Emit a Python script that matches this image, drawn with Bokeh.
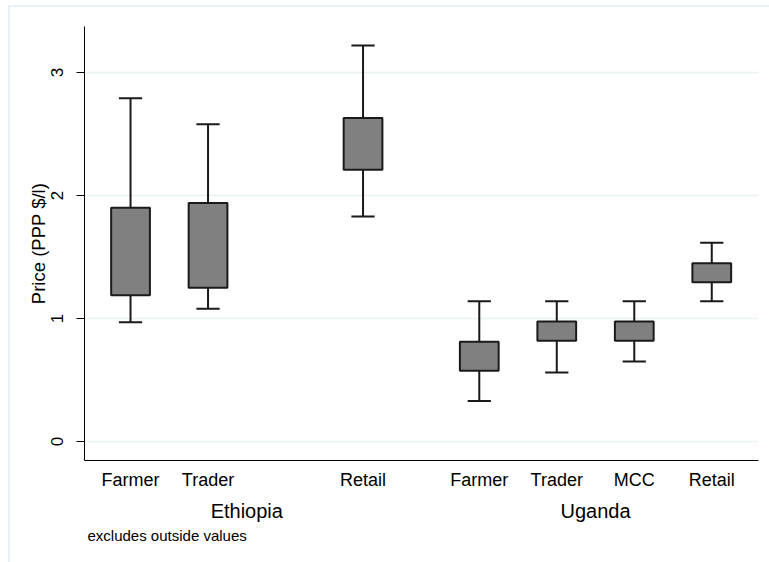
from bokeh.plotting import figure
from bokeh.models import FixedTicker, LinearAxis, Range1d, Title, ColumnDataSource
from bokeh.embed import file_html
from bokeh.resources import INLINE

# ---- data ----
country_order = ["Ethiopia", "Uganda"]
stage_order = ["Farmer", "Trader", "MCC", "Retail"]
countries = ["Ethiopia", "Ethiopia", "Ethiopia", "Uganda", "Uganda", "Uganda", "Uganda"]
stages = ["Farmer", "Trader", "Retail", "Farmer", "Trader", "MCC", "Retail"]
lower_whisker = [0.97, 1.08, 1.83, 0.33, 0.56, 0.65, 1.14]
q1 = [1.19, 1.25, 2.21, 0.575, 0.82, 0.82, 1.295]
q3 = [1.90, 1.94, 2.63, 0.81, 0.975, 0.975, 1.45]
upper_whisker = [2.79, 2.58, 3.22, 1.14, 1.14, 1.14, 1.615]
y_ticks = [0, 1, 2, 3]
y_title = "Price (PPP $/l)"
note = "excludes outside values"

# ---- layout of categories along x (group gap of half a slot) ----
GROUP_GAP = 0.5
slots = len(stage_order) + GROUP_GAP
xpos = [country_order.index(c) * slots + stage_order.index(s) for c, s in zip(countries, stages)]
BOX_W = 0.5
CAP_W = 0.3

src = ColumnDataSource(dict(
    x=xpos, lo=lower_whisker, q1=q1, q3=q3, hi=upper_whisker,
    cap_l=[x - CAP_W / 2 for x in xpos], cap_r=[x + CAP_W / 2 for x in xpos],
))

group_centers = []
for c in country_order:
    px = [x for x, cc in zip(xpos, countries) if cc == c]
    group_centers.append((min(px) + max(px)) / 2)

FONT = "Liberation Sans"
INK = "#000000"
GRID = "#EAF2F3"

p = figure(width=761, height=557, output_backend="svg", toolbar_location=None,
           x_range=Range1d(-0.594, 8.103), y_range=Range1d(-0.1545, 3.374),
           min_border_left=76, min_border_right=11, min_border_top=21, min_border_bottom=102)
p.border_fill_color = None
p.background_fill_color = "white"
p.outline_line_color = None
p.styles = {"margin-left": "8px", "margin-top": "5px", "box-shadow": "inset 2px 2px 0 0 #EAF0F3"}

# whisker stems
p.segment(x0="x", y0="q3", x1="x", y1="hi", source=src, line_color="#1a1a1a", line_width=2)
p.segment(x0="x", y0="lo", x1="x", y1="q1", source=src, line_color="#1a1a1a", line_width=2)
# caps
p.segment(x0="cap_l", y0="hi", x1="cap_r", y1="hi", source=src, line_color="#1a1a1a", line_width=2)
p.segment(x0="cap_l", y0="lo", x1="cap_r", y1="lo", source=src, line_color="#1a1a1a", line_width=2)
# boxes
p.vbar(x="x", bottom="q1", top="q3", width=BOX_W, source=src,
       fill_color="#808080", line_color="#1a1a1a", line_width=2)

# y axis
ya = p.yaxis[0]
ya.ticker = FixedTicker(ticks=y_ticks)
ya.minor_tick_line_color = None
ya.major_tick_out = 8
ya.major_tick_in = 0
ya.major_label_orientation = "vertical"
ya.major_label_text_font = FONT
ya.major_label_text_font_size = "17px"
ya.major_label_text_color = INK
ya.major_label_standoff = 13
ya.axis_label = y_title
ya.axis_label_text_font = FONT
ya.axis_label_text_font_size = "18.5px"
ya.axis_label_text_font_style = "normal"
ya.axis_label_text_color = INK
ya.axis_label_standoff = 0
ya.axis_line_color = INK
ya.major_tick_line_color = INK

# x axis: stage labels
xa = p.xaxis[0]
xa.ticker = FixedTicker(ticks=xpos)
xa.major_label_overrides = {x: s for x, s in zip(xpos, stages)}
xa.minor_tick_line_color = None
xa.major_tick_line_color = None
xa.major_tick_out = 0
xa.major_tick_in = 0
xa.major_label_text_font = FONT
xa.major_label_text_font_size = "18px"
xa.major_label_text_color = INK
xa.major_label_standoff = 9
xa.axis_line_color = INK

# second x axis: country group labels
ga = LinearAxis(ticker=FixedTicker(ticks=group_centers),
                major_label_overrides={x: c for x, c in zip(group_centers, country_order)})
ga.axis_line_color = None
ga.major_tick_line_color = None
ga.minor_tick_line_color = None
ga.major_tick_out = 0
ga.major_tick_in = 0
ga.major_label_text_font = FONT
ga.major_label_text_font_size = "20px"
ga.major_label_text_color = INK
ga.major_label_standoff = 7
p.add_layout(ga, "below")

# grid
p.xgrid.grid_line_color = None
p.ygrid.ticker = FixedTicker(ticks=y_ticks)
p.ygrid.grid_line_color = GRID
p.ygrid.grid_line_width = 1.5

# note
p.add_layout(Title(text=note, align="left", offset=3, text_font=FONT, text_font_size="15px",
                   text_font_style="normal", text_color=INK, standoff=1), "below")

open("out.html", "w").write(file_html(p, INLINE))
